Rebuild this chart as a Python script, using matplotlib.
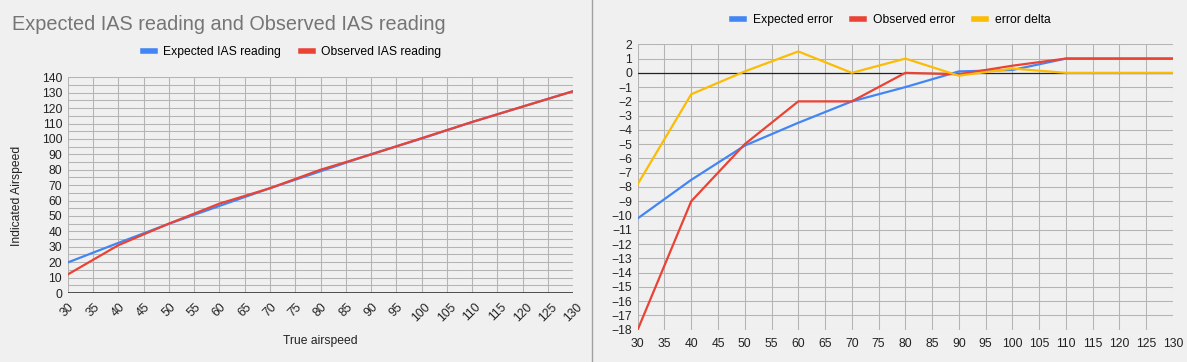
import matplotlib.pyplot as plt
from matplotlib.lines import Line2D
from matplotlib.ticker import MultipleLocator

plt.rcParams['font.family'] = ['Liberation Sans', 'DejaVu Sans']

# True airspeed at each reading
tas = [30, 40, 50, 60, 70, 80, 90, 100, 110, 120, 130]

# Left chart: indicated airspeed
expected_ias = [19.8, 32.5, 44.9, 56.5, 68, 79, 90.1, 100.2, 111, 121, 131]
observed_ias = [12, 31, 45, 58, 68, 80, 89.9, 100.5, 111, 121, 131]

# Right chart: errors
expected_err = [-10.2, -7.5, -5.1, -3.5, -2, -1, 0.1, 0.2, 1, 1, 1]
observed_err = [-18, -9, -5, -2, -2, 0, -0.1, 0.5, 1, 1, 1]
error_delta = [-7.8, -1.5, 0.1, 1.5, 0, 1, -0.2, 0.3, 0, 0, 0]

BLUE = '#4285f4'
RED = '#ea4335'
YELLOW = '#fbbc04'
GRID = '#b4b4b4'
BG = '#f0f0f0'
FS = 8.7

W, H = 1187, 362
fig = plt.figure(figsize=(W / 100, H / 100), dpi=100, facecolor=BG)


def px_axes(x0, y0, x1, y1):
    # axes from pixel box (top-left origin)
    return fig.add_axes([x0 / W, 1 - y1 / H, (x1 - x0) / W, (y1 - y0) / H])


def style(ax):
    ax.set_facecolor(BG)
    for s in ax.spines.values():
        s.set_visible(False)
    ax.grid(True, which='both', color=GRID, linewidth=0.75)
    ax.set_axisbelow(True)
    ax.tick_params(which='both', length=0, labelsize=FS, colors='#222222')


# ---- left chart ----
ax1 = px_axes(67.7, 77.3, 573.3, 293)
style(ax1)
ax1.plot(tas, expected_ias, color=BLUE, lw=1.6, label='Expected IAS reading')
ax1.plot(tas, observed_ias, color=RED, lw=1.6, label='Observed IAS reading')
ax1.set_xlim(30, 130)
ax1.set_ylim(0, 140)
ax1.xaxis.set_major_locator(MultipleLocator(5))
ax1.yaxis.set_major_locator(MultipleLocator(10))
ax1.yaxis.set_minor_locator(MultipleLocator(5))
ax1.axhline(0, color='#333333', lw=1.2, zorder=3)
ax1.tick_params(axis='y', pad=4)
ax1.tick_params(axis='x', pad=6)
for lbl in ax1.get_xticklabels():
    lbl.set_rotation(45)
    lbl.set_ha('center')
fig.text(12 / W, 1 - 24 / H, 'Expected IAS reading and Observed IAS reading',
         fontsize=14.3, color='#757575', ha='left', va='center')
fig.text(17 / W, 1 - 196 / H, 'Indicated Airspeed', rotation=90,
         fontsize=FS, ha='center', va='center', color='#222222')
fig.text(320 / W, 1 - 341 / H, 'True airspeed', fontsize=FS,
         ha='center', va='center', color='#222222')
l1 = ax1.get_legend_handles_labels()[1]
fig.legend([Line2D([], [], color=BLUE, lw=4), Line2D([], [], color=RED, lw=4)], l1,
           loc='center', bbox_to_anchor=(292 / W, 1 - 52 / H), ncol=2,
           frameon=False, fontsize=FS, handlelength=1.0, handletextpad=0.7,
           columnspacing=1.6)

# separator
fig.add_artist(Line2D([591.7 / W, 591.7 / W], [0, 1], color='#a0a0a0', lw=1))

# ---- right chart ----
ax2 = px_axes(637.7, 44.3, 1173, 329.7)
style(ax2)
ax2.plot(tas, expected_err, color=BLUE, lw=1.6, label='Expected error')
ax2.plot(tas, observed_err, color=RED, lw=1.6, label='Observed error')
ax2.plot(tas, error_delta, color=YELLOW, lw=1.6, label='error delta')
ax2.set_xlim(30, 130)
ax2.set_ylim(-18, 2)
ax2.xaxis.set_major_locator(MultipleLocator(5))
ax2.yaxis.set_major_locator(MultipleLocator(1))
ax2.axhline(0, color='#222222', lw=0.9, zorder=1.5)
ax2.tick_params(axis='y', pad=4)
ax2.tick_params(axis='x', pad=6)
l2 = ax2.get_legend_handles_labels()[1]
fig.legend([Line2D([], [], color=c, lw=4) for c in (BLUE, RED, YELLOW)], l2,
           loc='center', bbox_to_anchor=(891.5 / W, 1 - 20 / H), ncol=3,
           frameon=False, fontsize=FS, handlelength=1.0, handletextpad=0.7,
           columnspacing=1.6)

fig.savefig('out.png', dpi=100, facecolor=BG)
